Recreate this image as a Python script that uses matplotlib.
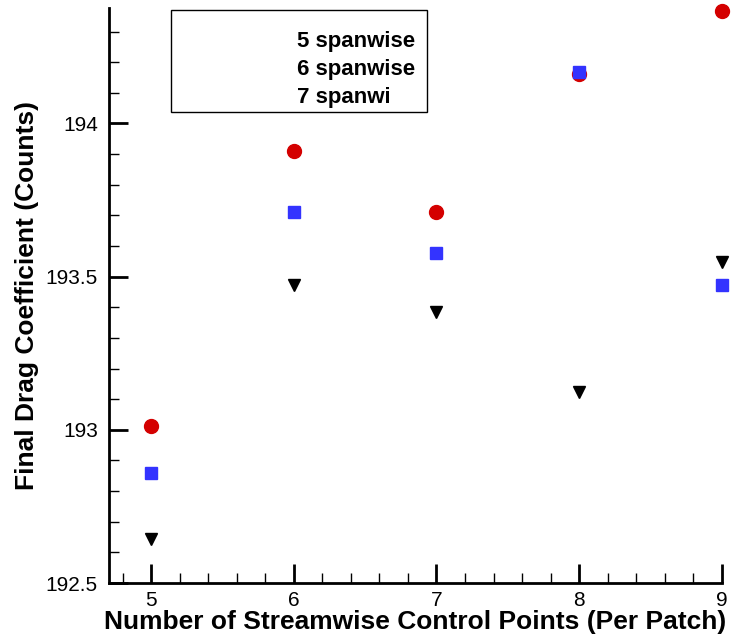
import matplotlib
matplotlib.use('Agg')
import matplotlib.pyplot as plt
from matplotlib.patches import Rectangle
from matplotlib.ticker import MultipleLocator

# streamwise control points per patch
x_points = [5, 6, 7, 8, 9]

# final drag coefficient (counts) for each spanwise resolution
drag_5span = [193.013, 193.909, 193.711, 194.162, 194.367]
drag_6span = [192.860, 193.710, 193.578, 194.169, 193.474]
drag_7span = [192.643, 193.474, 193.386, 193.123, 193.549]

legend_labels = ['5 spanwise', '6 spanwise', '7 spanwi']

font = ['Liberation Sans', 'DejaVu Sans']

fig = plt.figure(figsize=(7.32, 6.4), dpi=100)
ax = fig.add_axes([0.149, 0.089, 0.837, 0.8985])

ax.plot(x_points, drag_5span, 'o', color='#d40000', markersize=10, linestyle='none', clip_on=False)
ax.plot(x_points, drag_6span, 's', color='#3333ff', markersize=8, linestyle='none', clip_on=False)
ax.plot(x_points, drag_7span, 'v', color='black', markersize=9, linestyle='none', clip_on=False)

ax.set_xlim(4.705, 9.0)
ax.set_ylim(192.5, 194.377)

ax.xaxis.set_major_locator(MultipleLocator(1))
ax.xaxis.set_minor_locator(MultipleLocator(0.2))
ax.yaxis.set_major_locator(MultipleLocator(0.5))
ax.yaxis.set_minor_locator(MultipleLocator(0.1))
ax.yaxis.set_major_formatter(plt.FuncFormatter(lambda v, p: f'{v:g}'))

for s in ['top', 'right']:
    ax.spines[s].set_visible(False)
for s in ['left', 'bottom']:
    ax.spines[s].set_linewidth(2)

ax.tick_params(which='major', direction='in', length=14, width=2, labelsize=15)
ax.tick_params(which='minor', direction='in', length=7, width=1)
ax.tick_params(axis='x', which='major', pad=6)
ax.tick_params(axis='y', which='major', pad=8)
for lab in ax.get_xticklabels() + ax.get_yticklabels():
    lab.set_family(font)

ax.set_xlabel('Number of Streamwise Control Points (Per Patch)', fontsize=19,
              fontweight='bold', family=font, labelpad=0)
ax.set_ylabel('Final Drag Coefficient (Counts)', fontsize=19,
              fontweight='bold', family=font, labelpad=5)

# legend frame and entries
ax.add_patch(Rectangle((0.101, 0.819), 0.418, 0.1775, transform=ax.transAxes,
                       fill=False, edgecolor='black', linewidth=1, clip_on=False))
for i, lab in enumerate(legend_labels):
    ax.text(0.307, 0.941 - i * 0.048, lab, transform=ax.transAxes, fontsize=16,
            fontweight='bold', family=font, va='center', ha='left')

fig.savefig('out.png', dpi=100)
